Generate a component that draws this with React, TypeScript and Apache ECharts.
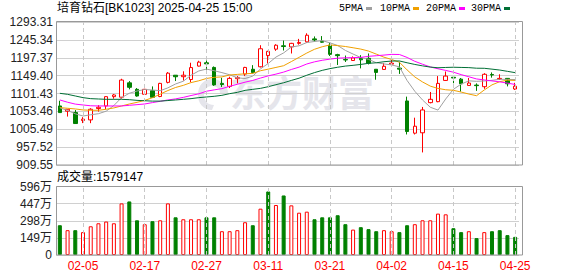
import React, { useEffect, useRef } from 'react';
import * as echarts from 'echarts';

const title = '培育钻石[BK1023] 2025-04-25 15:00';
const volumeTitle = '成交量';

const dates = [
  '2025-01-23', '2025-01-24', '2025-01-27', '2025-02-05', '2025-02-06', '2025-02-07', '2025-02-10', '2025-02-11', '2025-02-12', '2025-02-13',
  '2025-02-14', '2025-02-17', '2025-02-18', '2025-02-19', '2025-02-20', '2025-02-21', '2025-02-24', '2025-02-25', '2025-02-26', '2025-02-27',
  '2025-02-28', '2025-03-03', '2025-03-04', '2025-03-05', '2025-03-06', '2025-03-07', '2025-03-10', '2025-03-11', '2025-03-12', '2025-03-13',
  '2025-03-14', '2025-03-17', '2025-03-18', '2025-03-19', '2025-03-20', '2025-03-21', '2025-03-24', '2025-03-25', '2025-03-26', '2025-03-27',
  '2025-03-28', '2025-03-31', '2025-04-01', '2025-04-02', '2025-04-03', '2025-04-07', '2025-04-08', '2025-04-09', '2025-04-10', '2025-04-11',
  '2025-04-14', '2025-04-15', '2025-04-16', '2025-04-17', '2025-04-18', '2025-04-21', '2025-04-22', '2025-04-23', '2025-04-24', '2025-04-25',
];

const open = [
  1068, 1053.8, 1050.2, 1029, 1030.6, 1061, 1068, 1093, 1091.5, 1130,
  1112.6, 1099.3, 1109, 1093.5, 1131.3, 1150.5, 1146.5, 1139, 1175, 1183.8,
  1171.4, 1128.6, 1120.5, 1141.1, 1153.5, 1166.5, 1173.1, 1203.5, 1220.4, 1229.5,
  1226.5, 1236, 1240, 1248, 1241.7, 1231, 1205.7, 1192.7, 1190, 1195.8,
  1195.8, 1166.5, 1166, 1180.3, 1169.5, 1081.4, 995, 996, 1076.9, 1079.5,
  1136.5, 1145, 1140, 1123, 1124, 1119.7, 1152.5, 1140.5, 1142, 1113.5,
];

const close = [
  1050.2, 1059.1, 1020.8, 1032.5, 1059.2, 1064.5, 1093, 1097.5, 1137.5, 1118,
  1094.7, 1112.6, 1091.2, 1128.6, 1156, 1146.4, 1150.5, 1171, 1185.6, 1181,
  1124.5, 1125.5, 1142, 1144.6, 1171.4, 1157.5, 1221.5, 1214.5, 1231, 1227.5,
  1236, 1238.5, 1257.8, 1245.3, 1239, 1206.5, 1203, 1191.4, 1196.7, 1191.8,
  1182.8, 1158, 1174.5, 1182.8, 1166.8, 999.4, 1013.6, 1057.3, 1085.8, 1128.6,
  1148.2, 1143, 1127.5, 1129.5, 1122.5, 1153, 1151, 1142, 1127.5, 1121,
];

const high = [
  1082, 1059.5, 1057, 1038, 1061.9, 1070, 1094, 1100, 1141, 1134.8,
  1116, 1114, 1120.5, 1130, 1159, 1151, 1161, 1184, 1189.2, 1190,
  1174, 1143.7, 1146.4, 1148.2, 1173, 1177.5, 1231, 1216, 1233.7, 1243.5,
  1237.3, 1248, 1263, 1254.6, 1255.5, 1237.3, 1208, 1203.3, 1201, 1204.3,
  1208.8, 1166.5, 1183, 1191.8, 1186.5, 1093, 1036.5, 1065.3, 1105.5, 1148.2,
  1160.5, 1145.5, 1143, 1143, 1128.6, 1156, 1158, 1153, 1143, 1130,
];

const low = [
  1050, 1039.5, 1020.8, 1022, 1021.8, 1052.8, 1059.2, 1087.5, 1087.5, 1112.6,
  1092.9, 1098, 1091.2, 1091.5, 1128.6, 1134.8, 1136, 1132, 1174, 1165,
  1122, 1119, 1116.1, 1128.6, 1148.5, 1155.3, 1171.4, 1182, 1215.9, 1216.8,
  1208.8, 1232.5, 1237.7, 1240.8, 1237.3, 1202, 1178, 1186, 1189.5, 1168.8,
  1179.4, 1138.4, 1166, 1177.2, 1154, 991.5, 991.5, 943.3, 1075, 1078,
  1135, 1129, 1106.3, 1122, 1108.5, 1114, 1144, 1138, 1120.5, 1111,
];

// volume in 万 (10^4)
const volume = [
  259, 216, 216, 199, 250, 276, 291, 276, 449, 466,
  302, 268, 294, 302, 449, 328, 311, 311, 311, 328,
  328, 207, 207, 216, 285, 259, 403, 553, 435, 518,
  432, 368, 377, 311, 328, 328, 346, 268, 221, 242,
  225, 207, 216, 207, 199, 259, 268, 302, 302, 360,
  354, 233, 199, 207, 147, 199, 207, 216, 173, 157.9147,
];

const ma5 = [
  1063, 1056, 1047, 1041, 1044.4, 1047.2, 1054.0, 1069.3, 1090.3, 1102.1,
  1108.1, 1112.1, 1110.8, 1109.0, 1116.6, 1127.0, 1134.5, 1150.5, 1161.9, 1166.9,
  1162.5, 1157.5, 1151.7, 1143.5, 1141.6, 1148.1, 1167.4, 1181.9, 1199.2, 1210.4,
  1226.1, 1229.5, 1238.2, 1241.0, 1243.3, 1237.4, 1230.3, 1217.0, 1207.3, 1197.9,
  1193.1, 1184.1, 1180.8, 1178.0, 1173.0, 1136.3, 1107.4, 1084.0, 1064.6, 1056.9,
  1086.7, 1112.6, 1126.6, 1135.4, 1134.1, 1135.1, 1136.7, 1139.6, 1139.2, 1138.9,
];

const ma10 = [
  1063.6, 1061.8, 1060.0, 1057.3, 1056.4, 1056.4, 1059.1, 1062.7, 1068.0, 1073.2,
  1077.7, 1083.0, 1090.1, 1099.7, 1109.4, 1117.6, 1123.3, 1130.7, 1135.5, 1141.8,
  1144.8, 1146.0, 1151.1, 1152.7, 1154.3, 1155.4, 1162.5, 1166.8, 1171.4, 1176.0,
  1187.1, 1198.5, 1210.0, 1220.1, 1226.9, 1231.8, 1229.9, 1227.6, 1224.2, 1220.6,
  1215.3, 1207.2, 1198.9, 1192.7, 1185.4, 1164.7, 1145.8, 1132.4, 1121.3, 1115.0,
  1111.5, 1110.0, 1105.3, 1100.0, 1095.5, 1110.9, 1124.6, 1133.1, 1137.3, 1136.5,
];

const ma20 = [
  1084.1, 1078.0, 1073.0, 1070.6, 1068.5, 1068.0, 1068.0, 1068.0, 1068.0, 1069.7,
  1071.5, 1073.3, 1077.0, 1080.5, 1084.1, 1087.0, 1091.0, 1096.0, 1100.5, 1107.5,
  1111.2, 1114.5, 1120.6, 1126.2, 1131.8, 1136.5, 1142.9, 1148.7, 1153.4, 1158.9,
  1165.9, 1172.2, 1180.6, 1186.4, 1190.6, 1193.6, 1196.2, 1197.2, 1197.8, 1198.3,
  1201.2, 1202.8, 1204.5, 1206.4, 1206.1, 1198.2, 1187.8, 1180.0, 1172.7, 1167.8,
  1163.4, 1158.6, 1152.1, 1146.3, 1140.5, 1137.8, 1135.2, 1132.7, 1129.3, 1125.7,
];

const ma30 = [
  1101.9, 1099.2, 1094.8, 1090.3, 1087.6, 1086.7, 1085.8, 1085.8, 1085.8, 1084.9,
  1083.0, 1082.0, 1081.0, 1081.0, 1082.5, 1084.1, 1085.8, 1087.6, 1090.3, 1092.1,
  1093.9, 1096.5, 1101.0, 1104.5, 1109.9, 1112.6, 1115.2, 1119.7, 1125.0, 1130.3,
  1136.5, 1142.5, 1150.4, 1157.5, 1163.5, 1168.2, 1171.9, 1175.0, 1177.0, 1179.5,
  1182.4, 1183.9, 1186.7, 1188.5, 1188.8, 1183.9, 1179.4, 1175.6, 1172.3, 1170.5,
  1171.3, 1171.9, 1171.4, 1170.9, 1169.3, 1169.1, 1166.8, 1164.4, 1160.9, 1157.4,
];

const labelDates = ['2025-02-05', '2025-02-17', '2025-02-27', '2025-03-11', '2025-03-21', '2025-04-02', '2025-04-15', '2025-04-25'];
const priceTicks = [909.55, 957.52, 1005.49, 1053.46, 1101.43, 1149.40, 1197.37, 1245.34, 1293.31];
const volumeTicks = [0, 149, 298, 447, 596];

const maNames = ['5PMA', '10PMA', '20PMA', '30PMA'];
const maColors = ['#a0a0a0', '#f0a000', '#ff00ff', '#006f35'];
const maData = [ma5, ma10, ma20, ma30];

const UP = '#ff0000';
const DOWN = '#008000';
const FONT = '"Liberation Sans", "Noto Sans CJK SC", sans-serif';

echarts.graphic.registerShape(
  'emlogo',
  echarts.graphic.extendPath(
    'M14,0 C22,0 30,6 30,14 L22,14 C22,9 18,7 14,7 C8,7 6,12 6,16 C6,22 10,26 16,26 L14,31 C5,31 0,24 0,16 C0,6 6,0 14,0 Z',
    {}
  )
);

export default function App() {
  const ref = useRef<HTMLDivElement>(null);

  useEffect(() => {
    if (!ref.current) return;
    const chart = echarts.init(ref.current, null, { renderer: 'svg' });

    const candleData = dates.map((_, i) => [open[i], close[i], low[i], high[i]]);
    const volData = volume.map((v, i) => {
      const up = i === 0 ? close[i] >= open[i] : close[i] >= close[i - 1];
      return {
        value: v,
        itemStyle: {
          color: up ? '#ffffff' : DOWN,
          borderColor: up ? UP : DOWN,
          borderWidth: 1,
        },
      };
    });
    const lastVolRaw = Math.round(volume[volume.length - 1] * 10000);

    const markLineCfg = {
      silent: true,
      symbol: ['none', 'none'],
      label: { show: false },
      lineStyle: { color: '#c8c8c8', type: [4, 3], width: 1 },
      data: labelDates.map((d) => ({ xAxis: d })),
    };

    const legendX = [339, 380, 426, 471];
    const legendDashX = [366, 413, 459, 504];

    const graphics: any[] = [
      {
        type: 'emlogo',
        x: 198,
        y: 79,
        z: 0,
        silent: true,
        style: { fill: '#e5e5eb' },
      },
      {
        type: 'text',
        x: 230,
        y: 73,
        z: 0,
        silent: true,
        style: {
          text: '东方财富',
          font: 'bold 36px "Noto Sans CJK SC", sans-serif',
          fill: '#e5e5eb',
        },
      },
      {
        type: 'text',
        x: 57,
        y: 2,
        z: 10,
        style: { text: title, font: '12px ' + FONT, fill: '#000' },
      },
      {
        type: 'text',
        x: 57,
        y: 171,
        z: 10,
        style: { text: volumeTitle + ':' + lastVolRaw, font: '12px ' + FONT, fill: '#000' },
      },
      {
        type: 'rect',
        z: 10,
        silent: true,
        shape: { x: 56.5, y: 21.5, width: 466, height: 143.5 },
        style: { fill: 'none', stroke: '#999', lineWidth: 1 },
      },
      {
        type: 'rect',
        z: 10,
        silent: true,
        shape: { x: 56.5, y: 186.5, width: 466, height: 68.5 },
        style: { fill: 'none', stroke: '#999', lineWidth: 1 },
      },
    ];
    maNames.forEach((n, i) => {
      graphics.push({
        type: 'text',
        x: legendX[i],
        y: 3,
        z: 10,
        style: { text: n, font: '10px "Liberation Mono", monospace', fill: '#000' },
      });
      graphics.push({
        type: 'rect',
        z: 10,
        shape: { x: legendDashX[i], y: 7, width: 6, height: 3 },
        style: { fill: maColors[i] },
      });
    });

    const option: any = {
      animation: false,
      backgroundColor: '#ffffff',
      grid: [
        { left: 56, top: 22, width: 463, height: 143 },
        { left: 56, top: 186.5, width: 463, height: 68.5 },
      ],
      xAxis: [
        {
          type: 'category',
          gridIndex: 0,
          data: dates,
          boundaryGap: true,
          axisLine: { show: false },
          axisTick: { show: false },
          axisLabel: { show: false },
          splitLine: { show: false },
        },
        {
          type: 'category',
          gridIndex: 1,
          data: dates,
          boundaryGap: true,
          axisLine: { show: false },
          axisTick: { show: false },
          axisLabel: {
            interval: (_i: number, v: string) => labelDates.includes(v),
            formatter: (v: string) => v.slice(5),
            color: UP,
            fontSize: 12,
            fontFamily: FONT,
            margin: 5,
          },
          splitLine: { show: false },
        },
      ],
      yAxis: [
        {
          type: 'value',
          gridIndex: 0,
          min: priceTicks[0],
          max: priceTicks[priceTicks.length - 1],
          axisLine: { show: false },
          axisTick: { show: false, customValues: priceTicks },
          axisLabel: {
            customValues: priceTicks,
            formatter: (v: number) => v.toFixed(2),
            color: '#222',
            fontSize: 12,
            fontFamily: FONT,
            margin: 3,
          },
          splitLine: { show: true, lineStyle: { color: '#d0d0d0', width: 1 } },
        },
        {
          type: 'value',
          gridIndex: 1,
          min: volumeTicks[0],
          max: volumeTicks[volumeTicks.length - 1],
          interval: volumeTicks[1] - volumeTicks[0],
          axisLine: { show: false },
          axisTick: { show: false },
          axisLabel: {
            formatter: (v: number) => (v === 0 ? '0' : v + '万'),
            color: '#222',
            fontSize: 12,
            fontFamily: FONT,
            margin: 4,
          },
          splitLine: { show: true, lineStyle: { color: '#d0d0d0', width: 1 } },
        },
      ],
      graphic: { elements: graphics },
      series: [
        {
          type: 'line',
          xAxisIndex: 0,
          yAxisIndex: 0,
          data: [],
          z: 1,
          silent: true,
          markLine: markLineCfg,
        },
        {
          type: 'line',
          xAxisIndex: 1,
          yAxisIndex: 1,
          data: [],
          z: 1,
          silent: true,
          markLine: markLineCfg,
        },
        {
          type: 'candlestick',
          xAxisIndex: 0,
          yAxisIndex: 0,
          data: candleData,
          barWidth: 4,
          silent: true,
          itemStyle: {
            color: '#ffffff',
            color0: DOWN,
            borderColor: UP,
            borderColor0: DOWN,
            borderWidth: 1,
          },
        },
        ...maData.map((d, i) => ({
          type: 'line',
          name: maNames[i],
          xAxisIndex: 0,
          yAxisIndex: 0,
          data: d,
          showSymbol: false,
          silent: true,
          lineStyle: { color: maColors[i], width: 1 },
          itemStyle: { color: maColors[i] },
          z: 3,
        })),
        {
          type: 'bar',
          xAxisIndex: 1,
          yAxisIndex: 1,
          data: volData,
          barWidth: 4,
          silent: true,
        },
      ],
    };

    chart.setOption(option);
    return () => chart.dispose();
  }, []);

  return (
    <div
      ref={ref}
      style={{ position: 'absolute', left: 0, top: 0, width: 578, height: 276, background: '#fff' }}
    />
  );
}
